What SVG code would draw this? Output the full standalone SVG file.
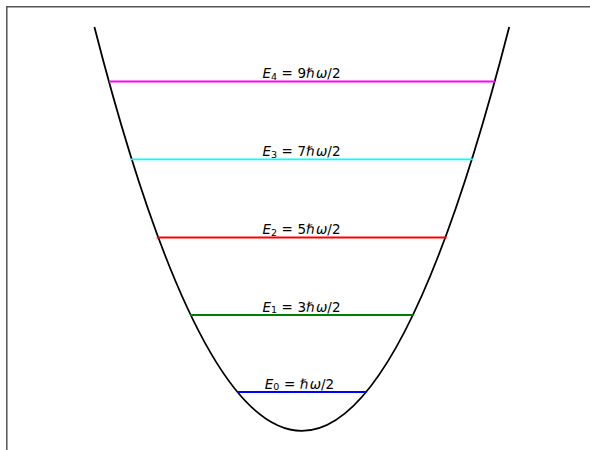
<svg xmlns="http://www.w3.org/2000/svg" width="590" height="450" viewBox="0 0 590 450">
<style>
.lvl{fill:none;stroke-width:1.8}
.lbl{font-family:"DejaVu Sans",sans-serif;font-size:13.5px;fill:#000;text-anchor:middle}
.it{font-style:italic}
.sub{font-size:9.5px}
</style>
<rect width="590" height="450" fill="#fff"/>
<path d="M6.8 450 V6.8 H590" fill="none" stroke="#555" stroke-width="1.5"/>
<g id="well">
<path d="M94.4 27 Q301.8 834.8 509.2 27" fill="none" stroke="#000" stroke-width="1.8"/>
</g>
<g id="connectors"></g>
<g id="level4">
<line class="lvl" x1="109" y1="81.5" x2="495" y2="81.5" stroke="#ff00ff"/>
<text class="lbl" x="301.5" y="78"><tspan class="it">E</tspan><tspan class="sub" dy="1.8">4</tspan><tspan dy="-1.8" dx="4.5">=</tspan><tspan dx="4.5">9ℏ</tspan><tspan class="it" dx="1.5">ω</tspan>/2</text>
</g>
<g id="level3">
<line class="lvl" x1="130.6" y1="159.3" x2="473" y2="159.3" stroke="#00ffff"/>
<text class="lbl" x="301.5" y="155.8"><tspan class="it">E</tspan><tspan class="sub" dy="1.8">3</tspan><tspan dy="-1.8" dx="4.5">=</tspan><tspan dx="4.5">7ℏ</tspan><tspan class="it" dx="1.5">ω</tspan>/2</text>
</g>
<g id="level2">
<line class="lvl" x1="156.7" y1="237.5" x2="446.5" y2="237.5" stroke="#ff0000"/>
<text class="lbl" x="301.5" y="234"><tspan class="it">E</tspan><tspan class="sub" dy="1.8">2</tspan><tspan dy="-1.8" dx="4.5">=</tspan><tspan dx="4.5">5ℏ</tspan><tspan class="it" dx="1.5">ω</tspan>/2</text>
</g>
<g id="level1">
<line class="lvl" x1="190" y1="315" x2="413.5" y2="315" stroke="#008000"/>
<text class="lbl" x="301.5" y="311.5"><tspan class="it">E</tspan><tspan class="sub" dy="1.8">1</tspan><tspan dy="-1.8" dx="4.5">=</tspan><tspan dx="4.5">3ℏ</tspan><tspan class="it" dx="1.5">ω</tspan>/2</text>
</g>
<g id="level0">
<line class="lvl" x1="237.3" y1="392" x2="366.3" y2="392" stroke="#0000ff"/>
<text class="lbl" x="299.5" y="388.5"><tspan class="it">E</tspan><tspan class="sub" dy="1.8">0</tspan><tspan dy="-1.8" dx="4.5">=</tspan><tspan dx="4.5">ℏ</tspan><tspan class="it" dx="1.5">ω</tspan>/2</text>
</g>
</svg>
